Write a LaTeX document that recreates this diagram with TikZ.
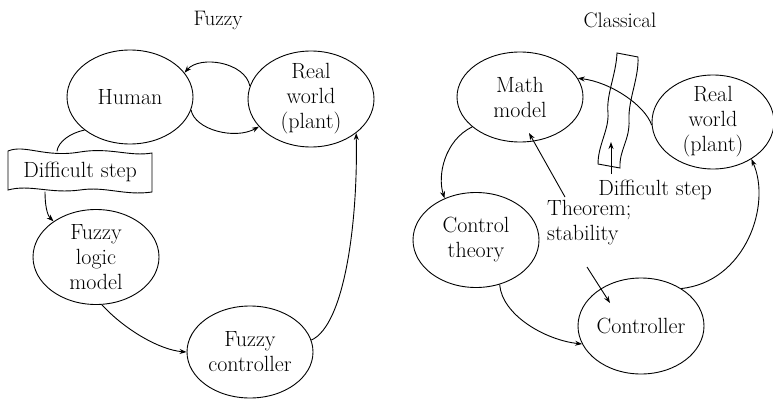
\documentclass[tikz,border=0pt]{standalone}
\usetikzlibrary{shapes.geometric,arrows.meta}
\begin{document}
\begin{tikzpicture}[x=1pt,y=-1pt,
  ell/.style={draw,ellipse,line width=0.9pt,inner sep=0pt,minimum width=126pt,minimum height=94pt},
  lbl/.style={align=center,inner sep=0pt,font=\fontsize{22}{25}\selectfont},
  ttl/.style={inner sep=0pt,font=\fontsize{21}{24}\selectfont},
  con/.style={line width=0.9pt,-{Stealth[length=7pt,width=5pt]}},
  plainline/.style={line width=0.9pt}]
\useasboundingbox (0,0) rectangle (773,401);
% titles
\node[ttl] (ft) at (218,20) {Fuzzy};
\node[ttl] (clt) at (620,20) {Classical};
% left ellipses
\node[ell] (hum) at (130,97) {};
\node[lbl] (humt) at (hum) {Human};
\node[ell,minimum height=96pt] (rwl) at (311,99) {};
\node[lbl] (rwlt) at (rwl) {Real\\world\\(plant)};
\node[ell,minimum height=95pt] (fl) at (96,257) {};
\node[lbl] (flt) at (fl) {Fuzzy\\logic\\model};
\node[ell,minimum height=92pt] (fc) at (250,352) {};
\node[lbl] (fct) at (fc) {Fuzzy\\controller};
% banner
\draw[plainline] (8,151) .. controls (25,144) and (45,158) .. (80,152)
  .. controls (110,147) and (130,157) .. (152,153) -- (152,192)
  .. controls (125,196) and (105,186) .. (80,190)
  .. controls (50,194) and (30,184) .. (8,190) -- cycle;
\node[lbl,minimum width=144pt,minimum height=40pt] (ban) at (80,171.5) {Difficult step};
% right ellipses
\node[ell,minimum height=90pt] (mm) at (520,97) {};
\node[lbl] (mmt) at (mm) {Math\\model};
\node[ell,minimum width=122pt] (rwr) at (713,122) {};
\node[lbl] (rwrt) at (rwr) {Real\\world\\(plant)};
\node[ell,minimum height=95pt] (ct) at (476,240) {};
\node[lbl] (ctt) at (ct) {Control\\theory};
\node[ell,minimum height=96pt] (ctl) at (641,326) {};
\node[lbl] (ctlt) at (ctl) {Controller};
% wavy band
\draw[plainline] (617,53) -- (638,57)
  .. controls (639,78) and (628,100) .. (629,120)
  .. controls (630,140) and (619,150) .. (620,168)
  -- (598,164)
  .. controls (598,145) and (609,130) .. (608,113)
  .. controls (606,95) and (616,75) .. cycle;
\node[lbl] (dsr) at (655,190) {Difficult step};
\node[lbl,align=left,anchor=west] (thm) at (547,223) {Theorem;\\stability};
\coordinate (dsa) at (611,174);
\coordinate (dsb) at (611,142);
\coordinate (tha) at (565,197);
\coordinate (thb) at (529,133);
\coordinate (tsa) at (587,267);
\coordinate (tsb) at (610,303);
% left connectors
\draw[con] (rwl.168) .. controls (245,62) and (200,55) .. (hum.24);
\draw[con] (hum.-12) .. controls (195,130) and (235,140) .. (rwl.208);
\draw[plainline] (hum.216) .. controls (70,133) and (58,142) .. ([xshift=-23pt]ban.north);
\draw[con] ([xshift=-35pt]ban.south) .. controls (45,205) and (47,215) .. (fl.140);
\draw[con] (fl.-83) .. controls (125,330) and (160,350) .. (fc.180);
\draw[con] (fc.11) .. controls (345,325) and (358,220) .. (rwl.-37);
% right connectors
\draw[con] (rwr.183) .. controls (645,105) and (610,82) .. (mm.18);
\draw[con] (mm.212) .. controls (445,140) and (437,175) .. (ct.127);
\draw[con] (ct.-62) .. controls (502,315) and (545,340) .. (ctl.197);
\draw[con] (ctl.43) .. controls (745,282) and (772,205) .. (rwr.-44);
\draw[con] (dsa) -- (dsb);
\draw[con] (tha) -- (thb);
\draw[con] (tsa) -- (tsb);
\end{tikzpicture}
\end{document}
